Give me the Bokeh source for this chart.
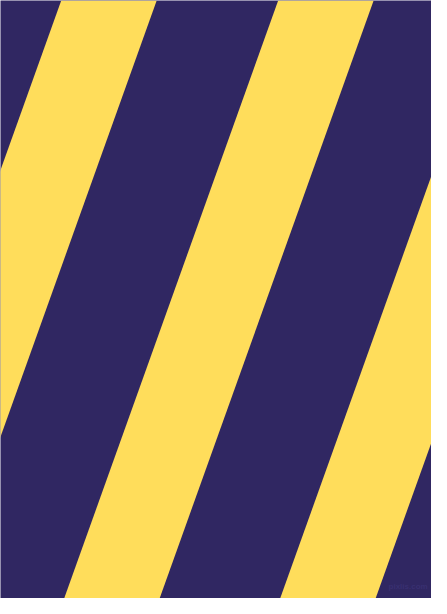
from bokeh.plotting import figure
from bokeh.models import Range1d, ColumnDataSource
from bokeh.embed import file_html
from bokeh.resources import INLINE
from bokeh.core.properties import value

# Pattern data (reference pixel space: 447 x 614, y downward)
canvas_w = 447
canvas_h = 614
stripe_top_left = [-162, 63, 288, 512]   # x where each yellow stripe starts at the top edge
stripe_width = [99, 99, 99, 99]           # horizontal width of each yellow stripe
stripe_shift = 222                        # leftward drift of the stripes from top to bottom
navy = "#302762"
yellow = "#FFDD5B"
watermark = "pixlis.com"

xs, ys = [], []
for x0, w in zip(stripe_top_left, stripe_width):
    xs.append([x0, x0 + w, x0 + w - stripe_shift, x0 - stripe_shift])
    ys.append([0, 0, canvas_h, canvas_h])

p = figure(width=431, height=598, output_backend="svg", toolbar_location=None,
           x_range=Range1d(0, canvas_w), y_range=Range1d(canvas_h, 0),
           min_border=0, background_fill_color=navy, border_fill_color=navy)
p.axis.visible = False
p.grid.visible = False
p.outline_line_color = None

p.patches(xs, ys, fill_color=yellow, line_color=None)

src = ColumnDataSource(dict(x=[443], y=[602], t=[watermark]))
p.text(x="x", y="y", text="t", source=src, text_align="right", text_baseline="middle",
       text_font=value("Liberation Sans"), text_font_size="8px", text_font_style="bold",
       text_color="#3a3172", text_alpha=0.9)

open("out.html", "w").write(file_html(p, INLINE))
